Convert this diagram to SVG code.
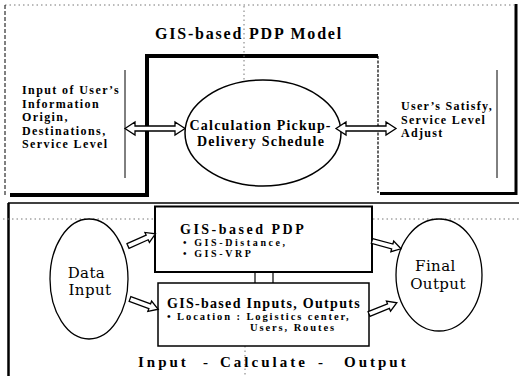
<svg xmlns="http://www.w3.org/2000/svg" width="519" height="376" viewBox="0 0 519 376">
<style>
.b{font-family:"Liberation Serif","Times New Roman",serif;font-weight:bold;fill:#000}
.r{font-family:"DejaVu Serif","Liberation Serif",serif;fill:#000}
.ln{fill:none;stroke:#000}
.dot{fill:none;stroke:#777;stroke-width:1;stroke-dasharray:1.5 3}
.arr{fill:#fff;stroke:#000;stroke-width:1.3;stroke-linejoin:miter}
</style>
<defs>
<path id="dbl" d="M0,0 L10,-6.5 L10,-2.5 L50,-2.5 L50,-6.5 L60,0 L50,6.5 L50,2.5 L10,2.5 L10,6.5 Z"/>
<path id="sgl" d="M0,-2.5 L21,-2.5 L21,-5.5 L30,0 L21,5.5 L21,2.5 L0,2.5 Z"/>
</defs>
<rect width="519" height="376" fill="#fff"/>

<g id="top-frame">
<line x1="5" y1="5" x2="514" y2="5" class="dot" stroke-dasharray="6 3"/>
<line x1="5" y1="5" x2="5" y2="195" class="ln" stroke-width="1" stroke-dasharray="4 2"/>
<polyline points="10,195 147,195 147,56 378,56" class="ln" stroke-width="4"/>
<line x1="378" y1="56" x2="378" y2="193" class="ln" stroke-width="1.2" stroke-dasharray="3 1.5"/>
<polyline points="380,193.5 516,193.5 516,4" class="ln" stroke-width="3"/>
<line x1="244" y1="6" x2="244" y2="80" class="dot"/>
<line x1="125" y1="70" x2="125" y2="178" class="ln" stroke-width="1"/>
<line x1="497" y1="70" x2="497" y2="178" class="ln" stroke-width="1"/>
</g>

<g id="title">
<text x="155" y="39" class="b" font-size="16" letter-spacing="1.8">GIS-based PDP Model</text>
</g>

<g id="user-input">
<text class="b" font-size="12" letter-spacing="1.4">
<tspan x="22" y="94">Input of User’s</tspan>
<tspan x="22" y="107.5">Information</tspan>
<tspan x="22" y="121">Origin,</tspan>
<tspan x="22" y="134.5">Destinations,</tspan>
<tspan x="22" y="148">Service Level</tspan>
</text>
</g>

<g id="calc-schedule">
<ellipse cx="263" cy="133" rx="78" ry="53" fill="#fff" stroke="#000" stroke-width="1.5"/>
<text class="b" font-size="14" letter-spacing="1.2" text-anchor="middle">
<tspan x="263" y="130">Calculation Pickup-</tspan>
<tspan x="261" y="146">Delivery Schedule</tspan>
</text>
</g>

<g id="user-satisfy">
<text class="b" font-size="12" letter-spacing="1.3">
<tspan x="401" y="110">User’s Satisfy,</tspan>
<tspan x="401" y="123.5">Service Level</tspan>
<tspan x="401" y="137">Adjust</tspan>
</text>
</g>

<g id="bottom-frame">
<line x1="8" y1="203" x2="519" y2="203" class="ln" stroke-width="1.5"/>
<line x1="8.5" y1="203" x2="8.5" y2="376" class="ln" stroke-width="2.5"/>
<line x1="3" y1="219" x2="155" y2="219" class="dot"/>
<line x1="373" y1="219" x2="519" y2="219" class="dot"/>
<line x1="245" y1="346" x2="245" y2="376" class="dot"/>
</g>

<g id="gis-pdp">
<rect x="155" y="206.5" width="217" height="65.5" fill="#fff" stroke="#000" stroke-width="2"/>
<text x="180" y="234" class="b" font-size="14" letter-spacing="2.5">GIS-based PDP</text>
<text class="b" font-size="10" letter-spacing="2.6">
<tspan x="183" y="246">• GIS-Distance,</tspan>
<tspan x="183" y="257">• GIS-VRP</tspan>
</text>
</g>

<g id="gis-io">
<rect x="158" y="283" width="211" height="63" fill="#fff" stroke="#000" stroke-width="1.5"/>
<text x="167" y="308" class="b" font-size="14" letter-spacing="1.3">GIS-based Inputs, Outputs</text>
<text class="b" font-size="10.5" letter-spacing="1.9">
<tspan x="167" y="320">• Location : Logistics center,</tspan>
<tspan x="250" y="331">Users, Routes</tspan>
</text>
</g>

<g id="data-input">
<ellipse cx="89" cy="279" rx="39" ry="60" fill="#fff" stroke="#000" stroke-width="1.3"/>
<text class="r" font-size="15" letter-spacing="0.4" text-anchor="middle">
<tspan x="89" y="278">Data</tspan>
<tspan x="90" y="295">Input</tspan>
</text>
</g>

<g id="final-output">
<ellipse cx="439" cy="275" rx="43" ry="56" fill="#fff" stroke="#000" stroke-width="1.3"/>
<text class="r" font-size="15" letter-spacing="0.4" text-anchor="middle">
<tspan x="438" y="271">Final</tspan>
<tspan x="438" y="289">Output</tspan>
</text>
</g>

<g id="footer">
<text class="b" font-size="15" letter-spacing="3">
<tspan x="138" y="367">Input</tspan>
<tspan x="203" y="367">-</tspan>
<tspan x="220" y="367">Calculate</tspan>
<tspan x="318" y="367">-</tspan>
<tspan x="344" y="367">Output</tspan>
</text>
</g>

<g id="connectors">
<use href="#dbl" class="arr" transform="translate(125,128.5)"/>
<use href="#dbl" class="arr" transform="translate(336,128.5)"/>
<use href="#sgl" class="arr" transform="translate(128,246) rotate(-24)"/>
<use href="#sgl" class="arr" transform="translate(130,299) rotate(20)"/>
<use href="#sgl" class="arr" transform="translate(372,241) rotate(15)"/>
<use href="#sgl" class="arr" transform="translate(369,314) rotate(-22)"/>
<line x1="255" y1="272" x2="255" y2="283" class="ln" stroke-width="1.2"/>
<line x1="273" y1="272" x2="273" y2="283" class="ln" stroke-width="1.2"/>
</g>
</svg>
